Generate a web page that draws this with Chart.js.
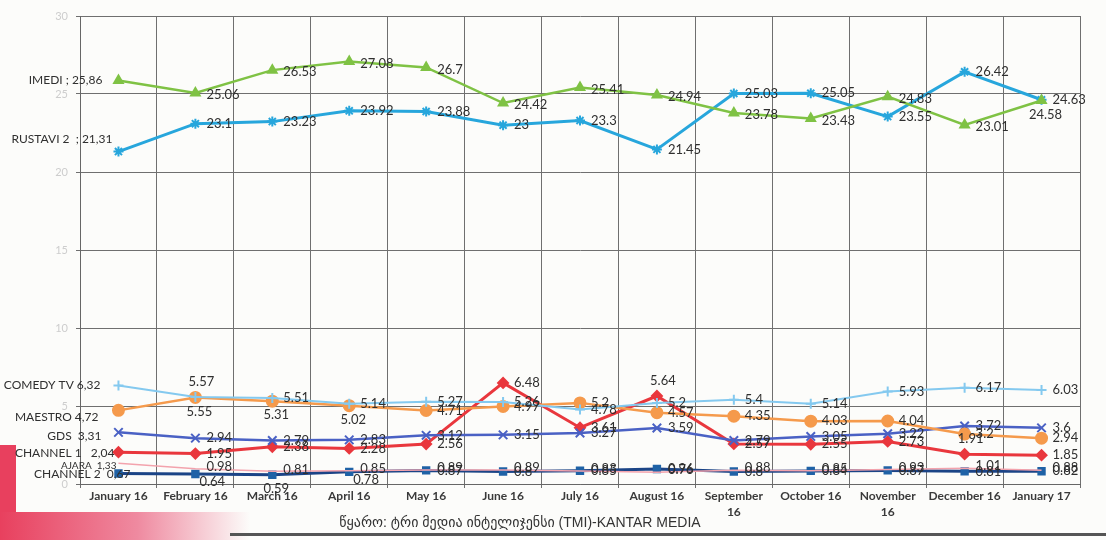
<!DOCTYPE html>
<html>
<head>
<meta charset="utf-8">
<script src="https://cdn.jsdelivr.net/npm/chart.js@4.4.1/dist/chart.umd.min.js"></script>
<style>
  html, body { margin: 0; padding: 0; background: #fcfcfa; }
  #wrap { position: relative; width: 1106px; height: 540px; overflow: hidden; }
  #c { position: absolute; left: 0; top: 0; }
  .red1 { position: absolute; left: 0; top: 445px; width: 16px; height: 95px; background: #e8405e; }
  .red2 { position: absolute; left: 0; top: 512px; width: 250px; height: 28px;
          background: linear-gradient(90deg, #e8405e 0%, #ef8aa0 55%, rgba(255,255,255,0) 100%); }
  .edge { position: absolute; left: 230px; top: 533px; width: 876px; height: 3px; background: #555; }
</style>
</head>
<body>
<div id="wrap">
  <div class="red1"></div><div class="red2"></div><div class="edge"></div>
  <canvas id="c" width="1106" height="540"></canvas>
</div>
<script>
// data
const months = ['January 16', 'February 16', 'March 16', 'April 16', 'May 16', 'June 16', 'July 16',
  'August 16', ['September', '16'], 'October 16', ['November', '16'], 'December 16', 'January 17'];
const imedi = [25.86, 25.06, 26.53, 27.08, 26.7, 24.42, 25.41, 24.94, 23.78, 23.43, 24.83, 23.01, 24.58];
const rustavi2 = [21.31, 23.1, 23.23, 23.92, 23.88, 23, 23.3, 21.45, 25.03, 25.05, 23.55, 26.42, 24.63];
const comedyTv = [6.32, 5.57, 5.51, 5.14, 5.27, 5.26, 4.78, 5.2, 5.4, 5.14, 5.93, 6.17, 6.03];
const maestro = [4.72, 5.55, 5.31, 5.02, 4.71, 4.97, 5.2, 4.57, 4.35, 4.03, 4.04, 3.2, 2.94];
const gds = [3.31, 2.94, 2.79, 2.83, 3.12, 3.15, 3.27, 3.59, 2.79, 3.05, 3.22, 3.72, 3.6];
const channel1 = [2.04, 1.95, 2.38, 2.28, 2.56, 6.48, 3.61, 5.64, 2.57, 2.55, 2.73, 1.91, 1.85];
const ajara = [1.33, 0.98, 0.81, 0.85, 0.89, 0.89, 0.83, 0.76, 0.88, 0.85, 0.93, 1.01, 0.88];
const channel2 = [0.67, 0.64, 0.59, 0.78, 0.87, 0.8, 0.85, 0.96, 0.8, 0.84, 0.87, 0.81, 0.82];
const yTicks = [0, 5, 10, 15, 20, 25, 30];
const sourceText = 'წყარო: ტრი მედია ინტელიჯენსი (TMI)-KANTAR MEDIA';

// look of each series, and where its first (name) label sits
const series = [
  { name: 'IMEDI', sep: ' ; ', data: imedi, color: '#7fc244', point: 'triangle', r: 5, lw: 2.5, dy: 2, lead: [-16, 0] },
  { name: 'RUSTAVI 2', sep: '  ; ', data: rustavi2, color: '#27a6dc', point: 'star', r: 5, lw: 3, dy: 0, lead: [-6, -12] },
  { name: 'COMEDY TV', sep: ' ', data: comedyTv, color: '#84c9ef', point: 'cross', r: 5, lw: 2, dy: 0, lead: [-18, 0] },
  { name: 'MAESTRO', sep: ' ', data: maestro, color: '#f59a4c', point: 'circle', r: 5.5, lw: 2.5, dy: 0, lead: [-20, 7] },
  { name: 'GDS', sep: '  ', data: gds, color: '#4a61c4', point: 'crossRot', r: 6, lw: 2.5, dy: 0, lead: [-17, 4] },
  { name: 'CHANNEL 1', sep: '   ', data: channel1, color: '#e9373d', point: 'rectRot', r: 5, lw: 3, dy: 0, lead: [-4, 1] },
  { name: 'AJARA', sep: '  ', data: ajara, color: '#f3a3ad', point: 'circle', r: 0, lw: 1.5, dy: -2, lead: [-2, 3], small: true },
  { name: 'CHANNEL 2', sep: '  ', data: channel2, color: '#1b4486', point: 'rect', r: 4.5, lw: 3, dy: 0, lead: [12, 1], fill: '#1f62a6' }
];

// labels that do not sit to the right of their point
const labelPlace = {
  'IMEDI': { 12: 'below' },
  'COMEDY TV': { 1: 'above' },
  'MAESTRO': { 1: 'below', 2: 'below', 3: 'below' },
  'CHANNEL 1': { 7: 'above', 11: 'above' },
  'CHANNEL 2': { 1: 'belowRight', 2: 'below', 3: 'belowRight' }
};

const labelFont = '13px Lato, "Liberation Sans", sans-serif';
const leadFont = '12px Lato, "Liberation Sans", sans-serif';

const pointLabels = {
  id: 'pointLabels',
  afterDatasetsDraw(chart) {
    const ctx = chart.ctx;
    ctx.save();
    ctx.fillStyle = '#2f2f2f';
    ctx.textBaseline = 'middle';
    series.forEach((s, di) => {
      const meta = chart.getDatasetMeta(di);
      meta.data.forEach((pt, i) => {
        const v = s.data[i];
        if (i === 0) {
          ctx.font = s.small ? '10px Lato, sans-serif' : leadFont;
          ctx.textAlign = 'right';
          ctx.fillText(s.name + s.sep + String(v).replace('.', ','), pt.x + s.lead[0], pt.y + s.lead[1]);
          return;
        }
        ctx.font = labelFont;
        const place = (labelPlace[s.name] || {})[i] || 'right';
        const txt = String(v);
        if (place === 'above') {
          ctx.textAlign = 'center';
          ctx.fillText(txt, pt.x + 6, pt.y - 15);
        } else if (place === 'below') {
          ctx.textAlign = 'center';
          ctx.fillText(txt, pt.x + 4, pt.y + 14);
        } else if (place === 'belowRight') {
          ctx.textAlign = 'left';
          ctx.fillText(txt, pt.x + 4, pt.y + 8);
        } else {
          ctx.textAlign = 'left';
          ctx.fillText(txt, pt.x + 11, pt.y + s.dy);
        }
      });
    });
    ctx.restore();
  },
  afterDraw(chart) {
    const ctx = chart.ctx;
    ctx.save();
    ctx.font = '14px "Liberation Sans", "DejaVu Sans", sans-serif';
    ctx.fillStyle = '#333';
    ctx.textAlign = 'center';
    ctx.textBaseline = 'middle';
    ctx.fillText(sourceText, 520, 523);
    ctx.restore();
  }
};

new Chart(document.getElementById('c'), {
  type: 'line',
  data: {
    labels: months,
    datasets: series.map(s => ({
      label: s.name,
      data: s.data,
      borderColor: s.color,
      backgroundColor: s.fill || s.color,
      borderWidth: s.lw,
      pointStyle: s.point,
      pointRadius: s.r,
      pointBorderColor: s.fill || s.color,
      pointBackgroundColor: s.fill || s.color,
      pointBorderWidth: 2,
      tension: 0,
      fill: false
    }))
  },
  options: {
    responsive: false,
    animation: false,
    layout: { padding: { top: 16, right: 26, left: 0, bottom: 0 } },
    plugins: { legend: { display: false }, tooltip: { enabled: false } },
    scales: {
      x: {
        offset: true,
        grid: { offset: true, color: '#6f6f6f', lineWidth: 1, tickLength: 4 },
        border: { color: '#666' },
        ticks: {
          autoSkip: false, maxRotation: 0, padding: 0, color: '#3a3a3a',
          font: { family: 'Lato', size: 12, weight: 'bold', lineHeight: 1.35 }
        },
        afterFit(scale) { scale.height = 56; }
      },
      y: {
        min: 0, max: 30,
        afterBuildTicks(scale) { scale.ticks = yTicks.map(v => ({ value: v })); },
        grid: { color: '#6f6f6f', lineWidth: 1, tickLength: 4 },
        border: { color: '#666' },
        ticks: { color: '#cdcdcd', padding: 8, font: { family: 'Lato', size: 11 } },
        afterFit(scale) { scale.width = 80; }
      }
    }
  },
  plugins: [pointLabels]
});
</script>
</body>
</html>
